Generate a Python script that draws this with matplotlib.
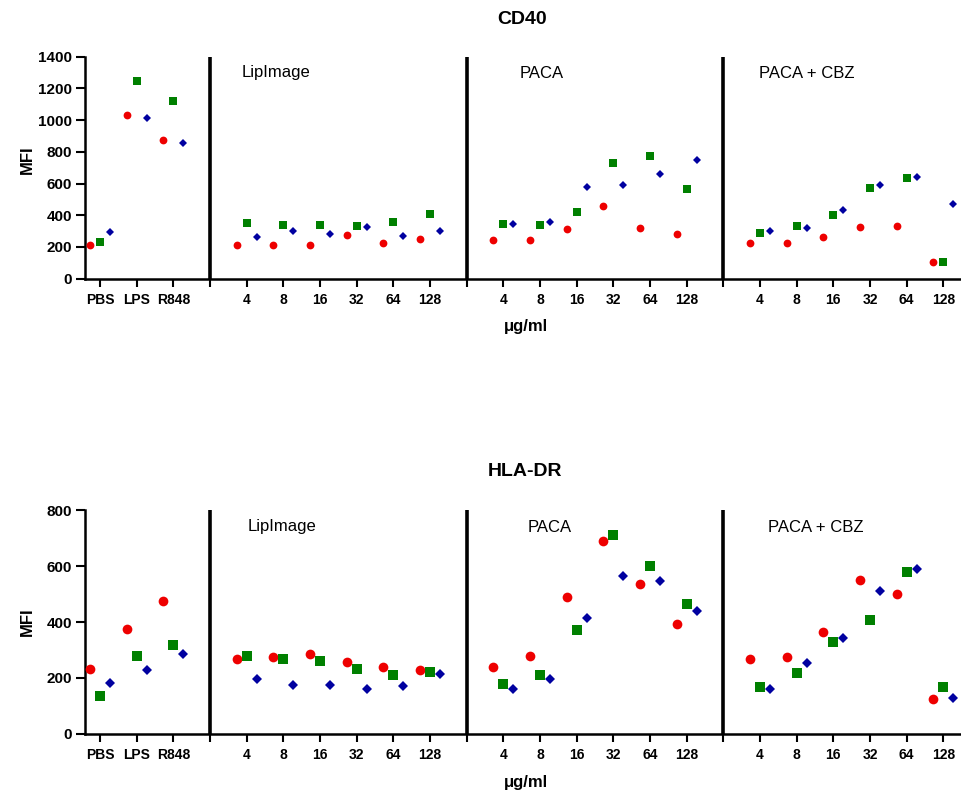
import matplotlib
matplotlib.use("Agg")
import matplotlib.pyplot as plt
import numpy as np

plt.rcParams['font.family'] = ['Liberation Sans', 'DejaVu Sans']

# ---------------- data ----------------
controls = ["PBS", "LPS", "R848"]
doses = ["4", "8", "16", "32", "64", "128"]
groups = ["LipImage", "PACA", "PACA + CBZ"]

# CD40 (order: PBS, LPS, R848, LipImage x6, PACA x6, PACA+CBZ x6)
cd40_red = [211, 1030, 874,
            215, 211, 211, 274, 224, 251,
            241, 241, 316, 457, 320, 282,
            228, 228, 261, 328, 334, 107]
cd40_green = [234, 1245, 1120,
              351, 338, 338, 334, 355, 405,
              345, 341, 420, 731, 775, 566,
              288, 332, 401, 575, 633, 107]
cd40_blue = [295, 1015, 857,
             261, 299, 280, 326, 270, 303,
             347, 355, 579, 593, 662, 750,
             301, 320, 432, 589, 639, 470]

# HLA-DR
hla_red = [232, 374, 475,
           269, 276, 286, 258, 238, 228,
           239, 278, 488, 691, 535, 393,
           269, 275, 364, 551, 499, 123]
hla_green = [134, 279, 319,
             278, 266, 260, 233, 209, 221,
             178, 211, 370, 713, 599, 464,
             166, 216, 329, 408, 579, 167]
hla_blue = [180, 227, 285,
            196, 173, 175, 161, 172, 213,
            161, 197, 415, 564, 546, 440,
            160, 253, 343, 510, 589, 129]

# ---------------- layout helpers ----------------
W, H = 961, 794
fig = plt.figure(figsize=(W / 100, H / 100), dpi=100)


def fx(x):
    return x / W


def fy(y):
    return 1 - y / H


# category positions: controls 0..2, separator 3, group1 4..9, sep 10, group2 11..16, sep 17, group3 18..23
pos = list(range(3))
seps = []
k = 3
for g in groups:
    seps.append(k)
    pos += list(range(k + 1, k + 1 + len(doses)))
    k += len(doses) + 1
pos = np.array(pos, dtype=float)

tick_pos = list(range(k))
tick_lab = controls + [""]
for g in groups:
    tick_lab += doses + [""]
tick_lab = tick_lab[:k]

RED = "#EE0000"
GREEN = "#008000"
BLUE = "#0000A0"
OFF = 0.273

x_left_px, x_right_px = 85, 980
xmin, xmax = -0.41, 24.0


def make_panel(top_px, bot_px, ymax, ystep, red, green, blue, big,
               title, title_xy, lab_pos, mfi_y, ug_y):
    ax = fig.add_axes([fx(x_left_px), fy(bot_px),
                       (x_right_px - x_left_px) / W, (bot_px - top_px) / H])
    ax.set_xlim(xmin, xmax)
    ax.set_ylim(0, ymax)
    ms_o = 7.0 if big else 5.6
    ms_s = 6.6 if big else 5.2
    ms_d = 5.4 if big else 4.4
    ax.plot(pos - OFF, red, 'o', color=RED, ms=ms_o, mew=0, clip_on=False, zorder=3)
    ax.plot(pos, green, 's', color=GREEN, ms=ms_s, mew=0, clip_on=False, zorder=3)
    ax.plot(pos + OFF, blue, 'D', color=BLUE, ms=ms_d, mew=0, clip_on=False, zorder=3)
    ax.vlines(seps, 0, ymax, color='black', lw=2.6, zorder=2)
    for s in ['top', 'right']:
        ax.spines[s].set_visible(False)
    for s in ['left', 'bottom']:
        ax.spines[s].set_linewidth(1.8)
    ax.set_yticks(np.arange(0, ymax + 1, ystep))
    ax.set_xticks(tick_pos)
    ax.set_xticklabels(tick_lab)
    ax.tick_params(axis='y', length=6.5, width=1.5, pad=3, labelsize=11)
    ax.tick_params(axis='x', length=6, width=1.5, pad=4, labelsize=10)
    for t in ax.get_xticklabels() + ax.get_yticklabels():
        t.set_fontweight('bold')
    fig.text(fx(27), fy(mfi_y), "MFI", rotation=90, fontsize=12, fontweight='bold',
             ha='center', va='center')
    fig.text(fx(title_xy[0]), fy(title_xy[1]), title, fontsize=14, fontweight='bold',
             ha='center', va='center')
    for g, (gx, gy) in zip(groups, lab_pos):
        fig.text(fx(gx), fy(gy), g, fontsize=12, ha='left', va='center')
    fig.text(fx(526), fy(ug_y), "\u03bcg/ml", fontsize=12, fontweight='bold',
             ha='center', va='center')
    return ax


make_panel(56.7, 278.7, 1400, 200, cd40_red, cd40_green, cd40_blue, False,
           "CD40", (522, 19), [(242, 73), (520, 73), (759, 73)], 160, 326)
make_panel(510.3, 733.7, 800, 200, hla_red, hla_green, hla_blue, True,
           "HLA-DR", (525, 472), [(248, 527), (528, 527), (768, 527)], 622, 783)

fig.savefig("out.png", dpi=100)
